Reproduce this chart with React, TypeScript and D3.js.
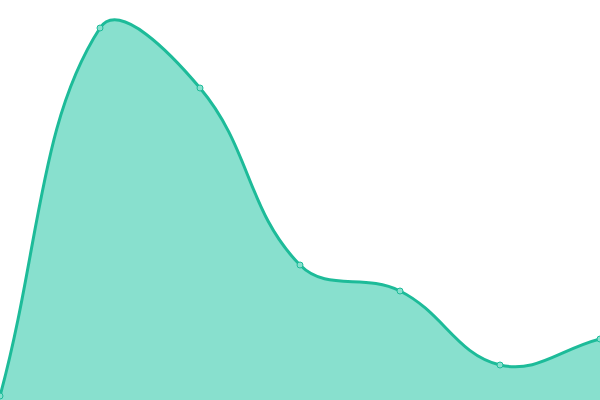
import React from "react";
import * as d3 from "d3";

const labels = ["A", "B", "C", "D", "E", "F", "G"];
const values = [1, 93, 78, 33.75, 27.25, 8.75, 15.25];

const W = 600;
const H = 400;
const TENSION = 0.4;

function splinePath(pts: [number, number][]): string {
  const p = d3.path();
  const n = pts.length;
  const cps: { prev: [number, number]; next: [number, number] }[] = [];
  for (let i = 0; i < n; i++) {
    const prev = pts[Math.max(0, i - 1)];
    const cur = pts[i];
    const next = pts[Math.min(n - 1, i + 1)];
    const d01 = Math.hypot(cur[0] - prev[0], cur[1] - prev[1]);
    const d12 = Math.hypot(next[0] - cur[0], next[1] - cur[1]);
    let s01 = d01 / (d01 + d12);
    let s12 = d12 / (d01 + d12);
    if (isNaN(s01)) s01 = 0;
    if (isNaN(s12)) s12 = 0;
    const fa = TENSION * s01;
    const fb = TENSION * s12;
    cps.push({
      prev: [cur[0] - fa * (next[0] - prev[0]), cur[1] - fa * (next[1] - prev[1])],
      next: [cur[0] + fb * (next[0] - prev[0]), cur[1] + fb * (next[1] - prev[1])],
    });
  }
  p.moveTo(pts[0][0], pts[0][1]);
  for (let i = 1; i < n; i++) {
    const a = cps[i - 1].next;
    const b = cps[i].prev;
    p.bezierCurveTo(a[0], a[1], b[0], b[1], pts[i][0], pts[i][1]);
  }
  return p.toString();
}

export default function App() {
  const x = d3.scalePoint<string>().domain(labels).range([0, W]);
  const y = d3.scaleLinear().domain([0, 100]).range([H, 0]);
  const pts: [number, number][] = labels.map((l, i) => [x(l) as number, y(values[i])]);
  const line = splinePath(pts);
  const area = line + `L${pts[pts.length - 1][0]},${H}L${pts[0][0]},${H}Z`;
  return (
    <svg
      width={W}
      height={H}
      style={{ position: "absolute", left: 0, top: 0, display: "block" }}
    >
      <path d={area} fill="#88e0ce" stroke="none" />
      <path d={line} fill="none" stroke="#1dbb99" strokeWidth={3} />
      {pts.map((d, i) => (
        <circle key={i} cx={d[0]} cy={d[1]} r={3} fill="#88e0ce" stroke="#1dbb99" strokeWidth={1} />
      ))}
    </svg>
  );
}
